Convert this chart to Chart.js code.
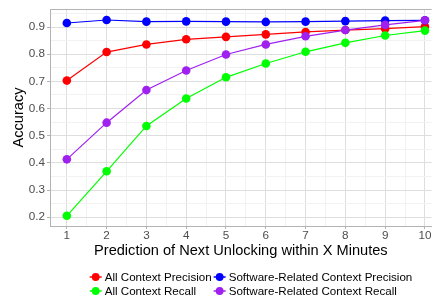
<!DOCTYPE html>
<html lang="en">
<head>
  <meta charset="UTF-8">
  <title>Accuracy vs Prediction Window</title>
  <style>
    html, body { margin: 0; padding: 0; background: #fff; }
    #wrap { width: 436px; height: 296px; position: relative; }
  </style>
</head>
<body>
  <div id="wrap"><canvas id="accChart"></canvas></div>

  <script src="https://cdn.jsdelivr.net/npm/chart.js"></script>
  <script>
    // values
    const minutes = [1, 2, 3, 4, 5, 6, 7, 8, 9, 10];
    const allPrecision = [0.703, 0.808, 0.836, 0.855, 0.864, 0.873, 0.882, 0.889, 0.894, 0.902];
    const allRecall = [0.205, 0.369, 0.536, 0.637, 0.715, 0.766, 0.809, 0.842, 0.869, 0.887];
    const swPrecision = [0.915, 0.926, 0.920, 0.921, 0.920, 0.919, 0.920, 0.922, 0.924, 0.925];
    const swRecall = [0.413, 0.548, 0.668, 0.740, 0.799, 0.836, 0.866, 0.889, 0.908, 0.925];
    const seriesNames = ['All Context Precision', 'All Context Recall',
      'Software-Related Context Precision', 'Software-Related Context Recall'];
    const seriesColors = ['#ff0000', '#00ff00', '#0000ff', '#a020f0'];

    const FONT = "'Liberation Sans', Arial, sans-serif";
    const MAJOR = '#dedede';
    const MINOR = '#f2f2f2';
    const BORDER = '#b3b3b3';

    const isWhole = (v, f) => Math.abs(v * f - Math.round(v * f)) < 1e-6;

    const toPoints = ys => minutes.map((x, i) => ({ x: x, y: ys[i] }));
    const seriesValues = [allPrecision, allRecall, swPrecision, swRecall];

    const datasets = seriesValues.map((vals, i) => ({
      label: seriesNames[i],
      data: toPoints(vals),
      borderColor: seriesColors[i],
      backgroundColor: seriesColors[i],
      borderWidth: 1.2,
      pointRadius: 4.3,
      pointBorderWidth: 0,
      pointHoverRadius: 4.3,
      tension: 0,
      order: 4 - i
    }));

    // top edge of the panel (ggplot theme_light border)
    const panelTop = {
      id: 'panelTop',
      beforeDatasetsDraw(chart) {
        const { ctx, chartArea } = chart;
        ctx.save();
        ctx.strokeStyle = BORDER;
        ctx.lineWidth = 1;
        ctx.beginPath();
        ctx.moveTo(chartArea.left, chartArea.top + 0.5);
        ctx.lineTo(chartArea.right, chartArea.top + 0.5);
        ctx.stroke();
        ctx.restore();
      }
    };

    // two-column legend filled by column, like ggplot
    const columnLegend = {
      id: 'columnLegend',
      afterDraw(chart) {
        const { ctx } = chart;
        const sets = chart.data.datasets;
        ctx.save();
        ctx.font = '11.6px ' + FONT;
        ctx.textBaseline = 'middle';
        const rowY = [277, 291];
        const keyW = 15;
        const colGap = 2;
        const col1W = keyW + Math.max(ctx.measureText(sets[0].label).width, ctx.measureText(sets[1].label).width);
        const col2W = keyW + Math.max(ctx.measureText(sets[2].label).width, ctx.measureText(sets[3].label).width);
        const startX = 251 - (col1W + colGap + col2W) / 2;
        const colX = [startX, startX + col1W + colGap];
        sets.forEach((ds, i) => {
          const cx = colX[Math.floor(i / 2)];
          const cy = rowY[i % 2];
          ctx.strokeStyle = ds.borderColor;
          ctx.fillStyle = ds.borderColor;
          ctx.lineWidth = 1.5;
          ctx.beginPath();
          ctx.moveTo(cx, cy);
          ctx.lineTo(cx + 12, cy);
          ctx.stroke();
          ctx.beginPath();
          ctx.arc(cx + 6, cy, 3.9, 0, Math.PI * 2);
          ctx.fill();
          ctx.fillStyle = '#000';
          ctx.fillText(ds.label, cx + keyW, cy + 0.5);
        });
        ctx.restore();
      }
    };

    new Chart(document.getElementById('accChart'), {
      type: 'line',
      data: { datasets: datasets },
      plugins: [panelTop, columnLegend],
      options: {
        responsive: true,
        maintainAspectRatio: false,
        animation: false,
        layout: { padding: { top: 1, right: 0, bottom: 38, left: 0 } },
        plugins: {
          legend: { display: false },
          tooltip: { enabled: false }
        },
        scales: {
          x: {
            type: 'linear',
            min: 0.577,
            max: 10.17,
            afterFit: s => { s.height = 32; },
            border: { color: BORDER, width: 1 },
            grid: {
              color: c => isWhole(c.tick.value, 1) ? MAJOR : MINOR,
              tickColor: c => isWhole(c.tick.value, 1) ? BORDER : 'rgba(0,0,0,0)',
              tickLength: 3,
              lineWidth: 1
            },
            ticks: {
              stepSize: 0.5,
              includeBounds: false,
              autoSkip: false,
              maxRotation: 0,
              padding: 0,
              color: '#4d4d4d',
              font: { family: FONT, size: 11.7 },
              callback: v => isWhole(v, 1) ? String(v) : ''
            },
            title: {
              display: true,
              text: 'Prediction of Next Unlocking within X Minutes',
              color: '#000',
              font: { family: FONT, size: 14.6 },
              padding: { top: 0, bottom: -2 }
            }
          },
          y: {
            min: 0.1675,
            max: 0.9665,
            afterFit: s => { s.width = 50; },
            border: { color: BORDER, width: 1 },
            grid: {
              color: c => isWhole(c.tick.value, 10) ? MAJOR : MINOR,
              tickColor: c => isWhole(c.tick.value, 10) ? BORDER : 'rgba(0,0,0,0)',
              tickLength: 3,
              lineWidth: 1
            },
            ticks: {
              stepSize: 0.05,
              includeBounds: false,
              autoSkip: false,
              padding: 2,
              color: '#4d4d4d',
              font: { family: FONT, size: 11.7 },
              callback: v => isWhole(v, 10) ? v.toFixed(1) : ''
            },
            title: {
              display: true,
              text: 'Accuracy',
              color: '#000',
              font: { family: FONT, size: 14.6 },
              padding: { top: 10, bottom: 0 }
            }
          }
        }
      }
    });
  </script>
</body>
</html>
